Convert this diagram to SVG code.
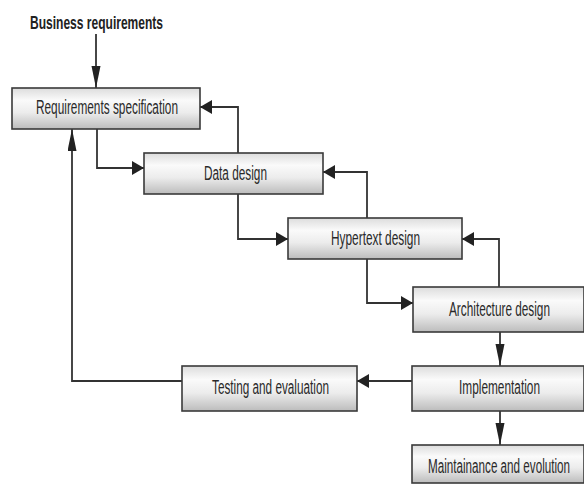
<svg xmlns="http://www.w3.org/2000/svg" width="584" height="485" viewBox="0 0 584 485">
  <defs>
    <linearGradient id="boxfill" x1="0" y1="0" x2="0" y2="1">
      <stop offset="0" stop-color="#dcdcdc"/>
      <stop offset="0.3" stop-color="#fafafa"/>
      <stop offset="0.6" stop-color="#ececec"/>
      <stop offset="1" stop-color="#bcbcbc"/>
    </linearGradient>
    <marker id="ah" markerUnits="userSpaceOnUse" markerWidth="14" markerHeight="16" refX="12" refY="7" orient="auto">
      <path d="M0,0 L12,7 L0,14 Z" fill="#222"/>
    </marker>
    <marker id="av" markerUnits="userSpaceOnUse" markerWidth="24" markerHeight="10" refX="22" refY="4.5" orient="auto">
      <path d="M0,0 L22,4.5 L0,9 Z" fill="#222"/>
    </marker>
  </defs>
  <style>
    .box { fill: url(#boxfill); stroke: #3a3a3a; stroke-width: 1.6; }
    .lbl { font-family: "Liberation Sans", Arial, sans-serif; font-size: 20px; fill: #2a2a2a; }
    .title { font-family: "Liberation Sans", Arial, sans-serif; font-size: 18px; font-weight: bold; fill: #222; }
    .conn { fill: none; stroke: #333; stroke-width: 1.8; }
  </style>

  <g id="business-requirements">
    <text class="title" transform="translate(30,29) scale(0.6,1)" x="0" y="0" textLength="221.7" lengthAdjust="spacingAndGlyphs">Business requirements</text>
  </g>

  <g id="connectors">
    <path class="conn" d="M96,34 V88" marker-end="url(#av)"/>
    <path class="conn" d="M97,129 V168 H144" marker-end="url(#ah)"/>
    <path class="conn" d="M238,153 V107 H200" marker-end="url(#ah)"/>
    <path class="conn" d="M238,194 V239 H288" marker-end="url(#ah)"/>
    <path class="conn" d="M367,218 V172 H323" marker-end="url(#ah)"/>
    <path class="conn" d="M367,259 V303 H413" marker-end="url(#ah)"/>
    <path class="conn" d="M499,287 V239 H462" marker-end="url(#ah)"/>
    <path class="conn" d="M500,332 V366" marker-end="url(#av)"/>
    <path class="conn" d="M412,381 H357" marker-end="url(#ah)"/>
    <path class="conn" d="M182,381 H72 V129" marker-end="url(#av)"/>
    <path class="conn" d="M500,411 V445" marker-end="url(#av)"/>
  </g>

  <g id="requirements-specification">
    <rect class="box" x="12" y="88" width="188" height="41"/>
    <text class="lbl" transform="translate(36,114) scale(0.6,1)" x="0" y="0" textLength="236.7" lengthAdjust="spacingAndGlyphs">Requirements specification</text>
  </g>

  <g id="data-design">
    <rect class="box" x="144" y="153" width="179" height="41"/>
    <text class="lbl" transform="translate(204,180) scale(0.6,1)" x="0" y="0" textLength="105" lengthAdjust="spacingAndGlyphs">Data design</text>
  </g>

  <g id="hypertext-design">
    <rect class="box" x="288" y="218" width="174" height="41"/>
    <text class="lbl" transform="translate(331,245) scale(0.6,1)" x="0" y="0" textLength="148.3" lengthAdjust="spacingAndGlyphs">Hypertext design</text>
  </g>

  <g id="architecture-design">
    <rect class="box" x="413" y="287" width="171" height="45"/>
    <text class="lbl" transform="translate(449,316) scale(0.6,1)" x="0" y="0" textLength="168.3" lengthAdjust="spacingAndGlyphs">Architecture design</text>
  </g>

  <g id="implementation">
    <rect class="box" x="412" y="366" width="172" height="45"/>
    <text class="lbl" transform="translate(459,394) scale(0.6,1)" x="0" y="0" textLength="135" lengthAdjust="spacingAndGlyphs">Implementation</text>
  </g>

  <g id="testing-and-evaluation">
    <rect class="box" x="182" y="366" width="175" height="45"/>
    <text class="lbl" transform="translate(212,394) scale(0.6,1)" x="0" y="0" textLength="195" lengthAdjust="spacingAndGlyphs">Testing and evaluation</text>
  </g>

  <g id="maintainance-and-evolution">
    <rect class="box" x="412" y="445" width="172" height="38"/>
    <text class="lbl" transform="translate(428,473) scale(0.6,1)" x="0" y="0" textLength="236.7" lengthAdjust="spacingAndGlyphs">Maintainance and evolution</text>
  </g>
</svg>
